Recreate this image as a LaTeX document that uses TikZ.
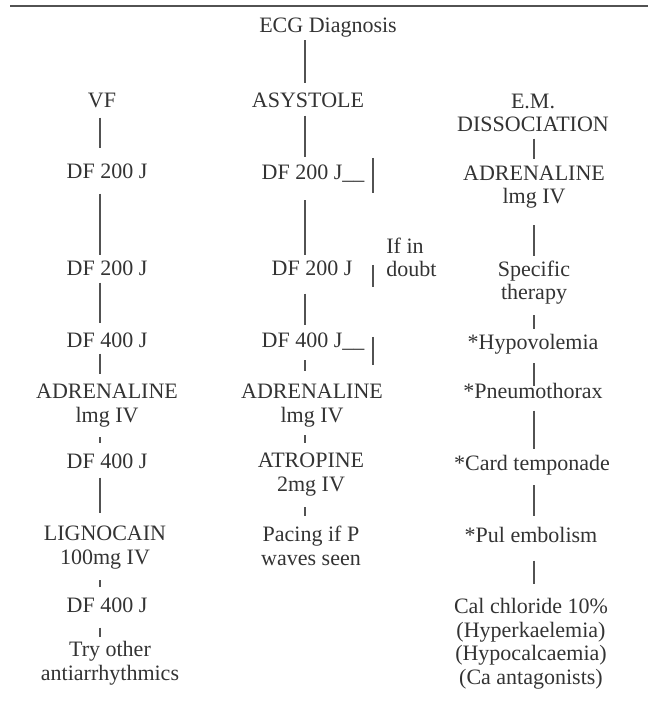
\documentclass[tikz,border=0pt]{standalone}
\usepackage{fontspec}
\setmainfont{Liberation Serif}
\usepackage{xcolor}
\usetikzlibrary{positioning}

\definecolor{ink}{HTML}{333333}

\begin{document}
\begin{tikzpicture}[
  x=0.5pt, y=-0.5pt,
  txt/.style={
    inner sep=0pt,
    align=center,
    anchor=base,
    text=ink,
    font=\fontsize{11}{11.7}\selectfont
  },
  link/.style={draw=ink!85, line width=0.7pt}
]
  \useasboundingbox (0,0) rectangle (656,710);

  % rule and the three branches (base = last line)
  \draw[link] (10,6) -- (648,6);
  \node[txt] (ecg) at (328,33) {ECG Diagnosis};
  \node[txt] (vf) at (102,108) {VF};
  \node[txt] (asys) at (308,108) {ASYSTOLE};
  \node[txt] (em) at (533,132) {E.M.\\DISSOCIATION};

  \coordinate (colA) at (100,0);
  \coordinate (colB) at (305,0);
  \coordinate (colC) at (534,0);

  % VF
  \node[txt] (c1d1) at (107,179) {DF 200 J};
  \node[txt] (c1d2) at (107,276) {DF 200 J};
  \node[txt] (c1d3) at (107,348) {DF 400 J};
  \node[txt] (c1adr) at (107,422) {ADRENALINE\\lmg IV};
  \node[txt] (c1d4) at (107,468) {DF 400 J};
  \node[txt] (lig) at (105,564) {LIGNOCAIN\\100mg IV};
  \node[txt] (c1d5) at (107,612) {DF 400 J};
  \node[txt] (try) at (110,680) {Try other\\antiarrhythmics};

  % asystole
  \node[txt] (c2d1) at (302,180) {DF 200 J\rlap{\_\_}};
  \node[txt] (c2d2) at (312,276) {DF 200 J};
  \node[txt] (c2d3) at (302,348) {DF 400 J\rlap{\_\_}};
  \node[txt] (c2adr) at (312,422) {ADRENALINE\\lmg IV};
  \node[txt] (atro) at (311,491) {ATROPINE\\2mg IV};
  \node[txt] (pace) at (311,565) {Pacing if P\\waves seen};
  \node[txt, anchor=base west, align=left] (doubt) at (386,277) {If in\\doubt};

  % E.M. dissociation
  \node[txt] (c3adr) at (534,204) {ADRENALINE\\lmg IV};
  \node[txt] (spec) at (534,300) {Specific\\therapy};
  \node[txt] (hypo) at (533,350) {*Hypovolemia};
  \node[txt] (pneu) at (533,398) {*Pneumothorax};
  \node[txt] (card) at (532,470) {*Card temponade};
  \node[txt] (pul) at (531,542) {*Pul embolism};
  \node[txt] (cal) at (531,684) {Cal chloride 10\%\\(Hyperkaelemia)\\(Hypocalcaemia)\\(Ca antagonists)};

  \draw[link, shorten <=4.5pt, shorten >=8pt] (vf.south -| colA) -- (c1d1.north -| colA);
  \draw[link, shorten <=7pt, shorten >=3pt] (c1d1.south -| colA) -- (c1d2.north -| colA);
  \draw[link, shorten <=3pt, shorten >=5pt] (c1d2.south -| colA) -- (c1d3.north -| colA);
  \draw[link, shorten <=2.5pt, shorten >=5pt] (c1d3.south -| colA) -- (c1adr.north -| colA);
  \draw[link, shorten <=5pt, shorten >=5pt] (c1adr.south -| colA) -- (c1d4.north -| colA);
  \draw[link, shorten <=4.5pt, shorten >=6.5pt] (c1d4.south -| colA) -- (lig.north -| colA);
  \draw[link, shorten <=5.5pt, shorten >=5pt] (lig.south -| colA) -- (c1d5.north -| colA);
  \draw[link, shorten <=7.5pt, shorten >=2pt] (c1d5.south -| colA) -- (try.north -| colA);

  \draw[link, shorten <=1pt, shorten >=5pt] (ecg.south -| colB) -- (asys.north -| colB);
  \draw[link, shorten <=3.5pt, shorten >=4pt] (asys.south -| colB) -- (c2d1.north -| colB);
  \draw[link, shorten <=8.5pt, shorten >=3pt] (c2d1.south -| colB) -- (c2d2.north -| colB);
  \draw[link, shorten <=8.5pt, shorten >=4pt] (c2d2.south -| colB) -- (c2d3.north -| colB);
  \draw[link, shorten <=4.5pt, shorten >=6.5pt] (c2d3.south -| colB) -- (c2adr.north -| colB);
  \draw[link, shorten <=4pt, shorten >=5pt] (c2adr.south -| colB) -- (atro.north -| colB);
  \draw[link, shorten <=5.5pt, shorten >=5pt] (atro.south -| colB) -- (pace.north -| colB);

  % if in doubt marks
  \draw[link] (373,158) -- (373,193);
  \draw[link] (373,265) -- (373,287);
  \draw[link] (373,337) -- (373,365);

  \draw[link, shorten <=3pt, shorten >=3.5pt] (em.south -| colC) -- (c3adr.north -| colC);
  \draw[link, shorten <=8pt, shorten >=2.5pt] (c3adr.south -| colC) -- (spec.north -| colC);
  \draw[link, shorten <=5pt, shorten >=2.5pt] (spec.south -| colC) -- (hypo.north -| colC);
  \draw[link, shorten <=4pt, shorten >=-2pt] (hypo.south -| colC) -- (pneu.north -| colC);
  \draw[link, shorten <=6pt, shorten >=2.5pt] (pneu.south -| colC) -- (card.north -| colC);
  \draw[link, shorten <=5pt, shorten >=5pt] (card.south -| colC) -- (pul.north -| colC);
  \draw[link, shorten <=9pt, shorten >=7pt] (pul.south -| colC) -- (cal.north -| colC);
\end{tikzpicture}
\end{document}
